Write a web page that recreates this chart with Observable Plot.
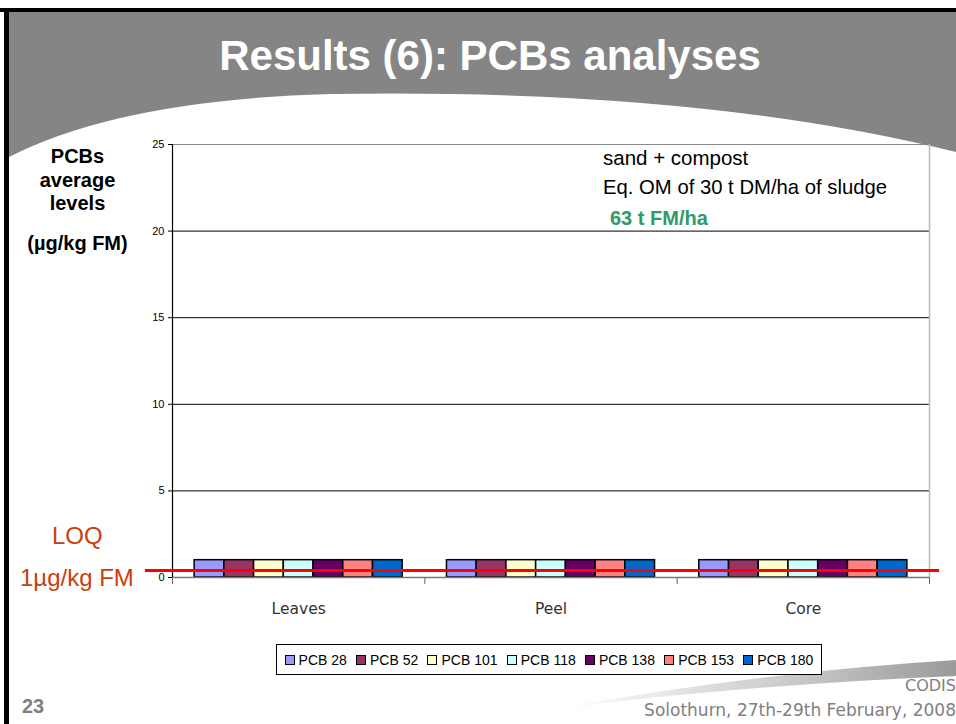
<!DOCTYPE html>
<html>
<head>
<meta charset="utf-8">
<script src="https://cdn.jsdelivr.net/npm/d3@7"></script>
<script src="https://cdn.jsdelivr.net/npm/@observablehq/plot@0.6"></script>
<style>
  body { margin: 0; background: #fff; }
  #slide { position: relative; width: 956px; height: 724px; overflow: hidden; background: #fff; font-family: "Liberation Sans", Arial, sans-serif; }
  .abs { position: absolute; white-space: nowrap; }
  #chart { position: absolute; left: 0; top: 0; }
  #chart svg { overflow: visible; background: transparent; }
  #legend { position: absolute; left: 276px; top: 644px; width: 546px; height: 31px; border: 1px solid #000; background: #fff; box-sizing: border-box; display: flex; align-items: center; justify-content: space-around; padding: 0 3px; font-size: 14px; }
  #legend .it { display: flex; align-items: center; }
  #legend .sw { width: 8px; height: 8px; border: 1px solid #000; margin-right: 4px; }
</style>
</head>
<body>
<div id="slide">
  <svg class="abs" width="956" height="724" style="left:0;top:0">
    <defs>
      <linearGradient id="sw" x1="0" x2="1" y1="0" y2="0">
        <stop offset="0" stop-color="#ffffff"/>
        <stop offset="0.6" stop-color="#c8c8c8"/>
        <stop offset="1" stop-color="#9a9a9a"/>
      </linearGradient>
    </defs>
    <path d="M0,10 H956 V160 L956,152 Q700,88 330,94 Q120,100 9,157 V10 Z" fill="#858585"/>
    <rect x="0" y="8" width="956" height="4" fill="#000"/>
    <rect x="4" y="8" width="5" height="716" fill="#000"/>
    <path d="M560,708 Q760,672 956,660 L956,676 Q760,684 560,708 Z" fill="url(#sw)"/>
  </svg>

  <div class="abs" id="title" style="left:0;width:956px;top:32px;text-align:center;color:#fff;font-weight:bold;font-size:42px;line-height:48px;">
    <span style="display:inline-block;margin-left:24px">Results (6): PCBs analyses</span>
  </div>

  <div class="abs" style="left:0;width:155px;top:145px;text-align:center;font-weight:bold;font-size:20px;line-height:23.5px;">PCBs<br>average<br>levels</div>
  <div class="abs" style="left:0;width:155px;top:232px;text-align:center;font-weight:bold;font-size:20px;line-height:23.5px;">(µg/kg FM)</div>
  <div class="abs" style="left:52px;top:522px;color:#c9400c;font-size:24px;line-height:28px;">LOQ</div>
  <div class="abs" style="left:20px;top:564px;color:#c9400c;font-size:24px;line-height:28px;">1µg/kg FM</div>

  <div id="chart"></div>

  <div class="abs" style="left:603px;top:146px;font-size:20.5px;line-height:24px;">sand + compost</div>
  <div class="abs" style="left:603px;top:175px;font-size:20.3px;line-height:24px;">Eq. OM of 30 t DM/ha of sludge</div>
  <div class="abs" style="left:610px;top:206px;font-size:20px;line-height:24px;font-weight:bold;color:#339966;">63 t FM/ha</div>

  <div id="legend"></div>

  <div class="abs" style="right:0;top:676px;color:#808080;font-family:'DejaVu Sans',sans-serif;font-size:16px;line-height:20px;">CODIS</div>
  <div class="abs" style="right:0;top:700px;color:#808080;font-family:'DejaVu Sans',sans-serif;font-size:17px;line-height:20px;">Solothurn, 27th-29th February, 2008</div>
  <div class="abs" style="left:22px;top:694px;color:#808080;font-weight:bold;font-size:20px;line-height:24px;">23</div>
</div>

<script>
// ---- data ----
const categories = ["Leaves", "Peel", "Core"];
const series = ["PCB 28", "PCB 52", "PCB 101", "PCB 118", "PCB 138", "PCB 153", "PCB 180"];
const pcb28  = [1, 1, 1];
const pcb52  = [1, 1, 1];
const pcb101 = [1, 1, 1];
const pcb118 = [1, 1, 1];
const pcb138 = [1, 1, 1];
const pcb153 = [1, 1, 1];
const pcb180 = [1, 1, 1];
const seriesValues = [pcb28, pcb52, pcb101, pcb118, pcb138, pcb153, pcb180];
const colors = ["#9999ff", "#993366", "#ffffcc", "#ccffff", "#660066", "#ff8080", "#0066cc"];
const yTicks = [0, 5, 10, 15, 20, 25];
const loqLevel = [0.4];

// ---- build table ----
const rows = categories.flatMap((c, ci) =>
  series.map((s, si) => ({ category: c, series: s, value: seriesValues[si][ci], ci, si }))
);
const groupInset = 0.0877;
const barW = (1 - 2 * groupInset) / series.length;
const catIdx = categories.map((c, i) => i);
const catBounds = [...catIdx, categories.length];
const catCenters = catIdx.map(i => i + 0.5);

const chart = Plot.plot({
  width: 956,
  height: 724,
  marginLeft: 172,
  marginRight: 27,
  marginTop: 144,
  marginBottom: 147,
  style: { fontFamily: "'Liberation Sans', Arial, sans-serif", fontSize: "10px", background: "transparent", color: "#000" },
  x: { type: "linear", domain: [0, categories.length], axis: null },
  y: { domain: [0, 25], axis: null },
  color: { type: "ordinal", domain: series, range: colors },
  marks: [
    Plot.ruleY(yTicks.filter(t => t > 0 && t < 25), { stroke: "#000", strokeWidth: 1 }),
    Plot.ruleY([25], { stroke: "#888", strokeWidth: 1.2 }),
    Plot.ruleX([categories.length], { stroke: "#bbb", strokeWidth: 1.5 }),
    Plot.axisX(catBounds, { tickSize: 7, stroke: "#666", tickFormat: () => "", label: null }),
    Plot.axisX(catCenters, { tickSize: 0, tickPadding: 25, fontSize: 15.5, fill: "#333", fontFamily: "'DejaVu Sans', sans-serif", tickFormat: d => categories[Math.floor(d)], label: null }),
    Plot.rectY(rows, {
      x1: d => d.ci + groupInset + d.si * barW,
      x2: d => d.ci + groupInset + (d.si + 1) * barW,
      y1: 0,
      y2: "value",
      fill: "series",
      stroke: "#000",
      strokeWidth: 1.5
    }),
    Plot.ruleY([0], { stroke: "#777", strokeWidth: 1.5 }),
    Plot.ruleX([0], { stroke: "#000", strokeWidth: 1.2 }),
    Plot.axisY(yTicks, { tickSize: 4, tickPadding: 4, stroke: "#000", fontSize: 11, fill: "#000", label: null }),
    Plot.ruleY(loqLevel, { x1: -0.107, x2: 3.04, stroke: "#ff0000", strokeWidth: 3 })
  ]
});
document.getElementById("chart").appendChild(chart);

// ---- legend ----
const legend = document.getElementById("legend");
series.forEach((s, i) => {
  const it = document.createElement("div");
  it.className = "it";
  const sw = document.createElement("div");
  sw.className = "sw";
  sw.style.background = colors[i];
  const t = document.createElement("span");
  t.textContent = s;
  it.appendChild(sw);
  it.appendChild(t);
  legend.appendChild(it);
});
</script>
</body>
</html>
